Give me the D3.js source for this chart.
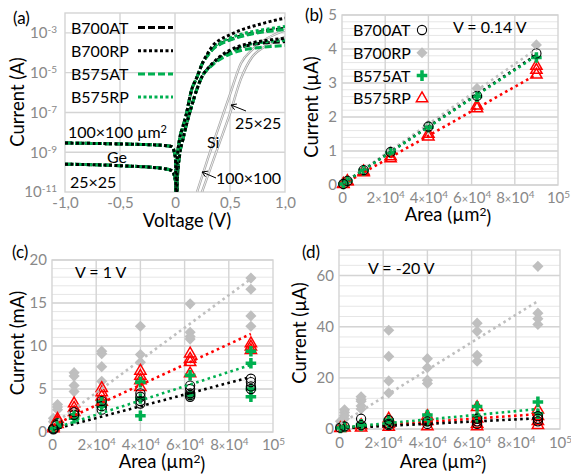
<!DOCTYPE html>
<html>
<head>
<meta charset="utf-8">
<script src="https://cdn.jsdelivr.net/npm/d3@7"></script>
<style>
  body { margin: 0; background: #fff; }
  text { font-family: Lato, "Liberation Sans", sans-serif; }
</style>
</head>
<body>
<svg id="chart" width="571" height="474"></svg>
<script>
// ---- panel (a): I-V curves ----
var vGe = [-1, -0.5, -0.1, -0.03, -0.01, 0.005, 0.012, 0.02, 0.04, 0.07, 0.1, 0.15, 0.2, 0.25, 0.3, 0.35, 0.4, 0.5, 0.6, 0.7, 0.8, 0.9, 1.0];

// 100x100 um2 devices (A)
var B700AT_100 = [2.9e-9, 2.6e-9, 2.2e-9, 1.9e-9, 1.2e-9, 4e-10, 1e-12, 4e-10, 4e-9, 1.8e-8, 7e-8, 1.3e-6, 6e-6, 3e-5, 8e-5, 1.7e-4, 2.6e-4, 4.6e-4, 7e-4, 9.5e-4, 1.2e-3, 1.45e-3, 1.7e-3];
var B700RP_100 = [2.9e-9, 2.6e-9, 2.2e-9, 1.9e-9, 1.2e-9, 4e-10, 1e-12, 4e-10, 4e-9, 1.8e-8, 7e-8, 1.3e-6, 6e-6, 3e-5, 1e-4, 2.5e-4, 4.2e-4, 8e-4, 1.4e-3, 2.1e-3, 3e-3, 4.2e-3, 5.5e-3];
var B575AT_100 = [2.9e-9, 2.6e-9, 2.2e-9, 1.9e-9, 1.2e-9, 4e-10, 1e-12, 4e-10, 4e-9, 1.8e-8, 7e-8, 1.3e-6, 6e-6, 3e-5, 7.5e-5, 1.6e-4, 2.5e-4, 4.3e-4, 6.5e-4, 8.8e-4, 1.1e-3, 1.3e-3, 1.45e-3];
var B575RP_100 = [2.9e-9, 2.6e-9, 2.2e-9, 1.9e-9, 1.2e-9, 4e-10, 1e-12, 4e-10, 4e-9, 1.8e-8, 7e-8, 1.3e-6, 6e-6, 3e-5, 8.5e-5, 1.9e-4, 3e-4, 5.5e-4, 8.5e-4, 1.15e-3, 1.45e-3, 1.75e-3, 2.1e-3];

// 25x25 um2 devices (A)
var B700AT_25 = [2.5e-10, 2.1e-10, 1.5e-10, 1.2e-10, 8e-11, 3e-11, 1e-12, 3e-11, 6e-10, 4e-9, 2e-8, 2e-7, 1.5e-6, 7e-6, 1.6e-5, 3e-5, 5e-5, 1.1e-4, 1.9e-4, 2.6e-4, 3.1e-4, 3.4e-4, 3.6e-4];
var B700RP_25 = [2.5e-10, 2.1e-10, 1.5e-10, 1.2e-10, 8e-11, 3e-11, 1e-12, 3e-11, 6e-10, 4e-9, 2e-8, 2e-7, 1.5e-6, 7e-6, 1.7e-5, 3.3e-5, 6e-5, 1.35e-4, 2.3e-4, 3.2e-4, 4e-4, 4.7e-4, 5.3e-4];
var B575AT_25 = [2.5e-10, 2.1e-10, 1.5e-10, 1.2e-10, 8e-11, 3e-11, 1e-12, 3e-11, 6e-10, 4e-9, 2e-8, 2e-7, 1.5e-6, 7e-6, 1.5e-5, 2.7e-5, 4.3e-5, 8.5e-5, 1.3e-4, 1.65e-4, 1.9e-4, 2.1e-4, 2.3e-4];
var B575RP_25 = [2.5e-10, 2.1e-10, 1.5e-10, 1.2e-10, 8e-11, 3e-11, 1e-12, 3e-11, 6e-10, 4e-9, 2e-8, 2e-7, 1.5e-6, 7e-6, 1.6e-5, 3e-5, 5.2e-5, 1.15e-4, 2e-4, 2.8e-4, 3.4e-4, 3.9e-4, 4.3e-4];

// Si reference diodes
var vSi = [0.2, 0.3, 0.4, 0.5, 0.6, 0.7, 0.8, 0.9, 1.0];
var Si_100 = [1e-11, 5e-10, 2e-8, 8e-7, 3e-5, 1.4e-4, 4e-4, 8e-4, 1.35e-3];
var Si_25 = [2e-12, 7e-11, 2.5e-9, 9e-8, 5e-6, 6e-5, 1.8e-4, 3.5e-4, 6.3e-4];

var voltTicks = [-1, -0.5, 0, 0.5, 1];
var voltLabels = ["-1,0", "-0,5", "0", "0,5", "1,0"];
var logTicks = [1e-11, 1e-9, 1e-7, 1e-5, 1e-3];

// ---- panels (b)-(d): current vs area, several devices per area ----
var areas = [625, 2500, 10000, 22500, 40000, 62500, 90000];
var areaTicks = [0, 20000, 40000, 60000, 80000, 100000];

// (b) V = 0.14 V, uA
var b_B700AT = [[0.03], [0.12], [0.44], [0.97], [1.72], [2.62], [3.87]];
var b_B700RP = [[0.03], [0.13], [0.45], [1.0], [1.76], [2.84], [4.12]];
var b_B575AT = [[0.03], [0.12], [0.43], [0.95], [1.7], [2.6], [3.75]];
var b_B575RP = [[0.02, 0.03], [0.1, 0.11], [0.37, 0.4], [0.78, 0.84], [1.42, 1.5], [2.25, 2.33], [3.24, 3.38, 3.5]];
// trend lines [at 625, at 90000]
var b_trend = { B700RP: [0.05, 4.0], B575RP: [0.03, 3.25], B700AT: [0.05, 3.83], B575AT: [0.05, 3.8] };

// (c) V = 1 V, mA
var c_B700AT = [[0.4, 0.3], [1.0, 0.85], [2.3, 2.0], [3.6, 3.0, 2.6], [4.5, 4.1, 3.6, 3.3], [5.4, 5.0, 4.5, 4.3, 4.1], [6.2, 5.8, 5.3, 5.0]];
var c_B700RP = [[1.6, 1.2], [3.2, 2.9, 2.6], [6.9, 6.5, 5.4, 4.7], [9.4, 9.1, 7.6, 5.9], [12.3, 9.0, 8.1], [14.9, 11.6, 11.1, 10.8], [17.9, 16.6, 13.5, 12.3]];
var c_B575AT = [[0.4], [1.0], [2.0, 1.6], [3.5, 3.0], [5.8, 3.9, 1.9], [6.6, 4.3], [9.4, 8.0, 5.0, 4.1]];
var c_B575RP = [[0.6, 0.4], [1.5, 1.2, 0.9], [3.3, 2.8, 2.3], [5.1, 4.6, 4.1, 3.5], [7.1, 6.5, 6.0, 5.2], [9.1, 8.5, 8.1, 6.8], [10.3, 9.9, 9.5]];
var c_trend = { B700RP: [0.9, 17.8], B575RP: [0.8, 11.4], B700AT: [0.3, 6.4], B575AT: [0.4, 7.8] };

// (d) V = -20 V, uA
var d_B700AT = [[0.5], [1.0], [4.0, 1.5], [3.5, 2.0, 1.5], [3.0, 2.0], [4.0, 3.0, 2.0], [5.0, 4.0, 3.0]];
var d_B700RP = [[3.0, 1.5], [7.5, 6.5, 5.3, 4.0], [12.6, 11.5, 10.9, 9.0, 7.8], [38.6, 28.4, 18.8, 14.1], [27.5, 24.0, 19.1, 17.8], [41.4, 38.2, 28.8, 26.5], [63.6, 45.3, 43.1, 40.9]];
var d_B575AT = [[0.4], [0.8], [1.8, 1.2], [3.5, 2.0], [5.5, 3.0], [8.8, 4.5], [10.6, 6.0]];
var d_B575RP = [[0.3], [0.5], [1.5, 0.5], [4.0, 2.0, 0.8], [5.0, 3.0, 1.0], [8.5, 4.0, 2.0, 1.0], [7.5, 5.0, 3.0, 1.5]];
var d_trend = { B700RP: [2.0, 50], B575RP: [0.4, 5.8], B700AT: [0.3, 4.2], B575AT: [0.5, 7.8] };

var seriesNames = ["B700AT", "B700RP", "B575AT", "B575RP"];

var green = "#00b050", red = "#ff0000", gray = "#bfbfbf";
var tickColor = "#898989";
var gridMajor = "#d4d4d4", gridMinor = "#e6e6e6";

var svg = d3.select("#chart");

// gridlines + border for one plot area
function drawGrid(g, x, y, vLines, hMajor, hMinor) {
  var xr = x.range(), yr = y.range();
  g.selectAll(".hmin").data(hMinor).enter().append("line")
    .attr("x1", xr[0]).attr("x2", xr[1])
    .attr("y1", d => y(d)).attr("y2", d => y(d))
    .attr("stroke", gridMinor).attr("stroke-width", 1);
  g.selectAll(".hmaj").data(hMajor).enter().append("line")
    .attr("x1", xr[0]).attr("x2", xr[1])
    .attr("y1", d => y(d)).attr("y2", d => y(d))
    .attr("stroke", gridMajor).attr("stroke-width", 1.4);
  g.selectAll(".vmaj").data(vLines).enter().append("line")
    .attr("x1", d => x(d)).attr("x2", d => x(d))
    .attr("y1", yr[0]).attr("y2", yr[1])
    .attr("stroke", gridMajor).attr("stroke-width", 1.4);
  g.append("rect")
    .attr("x", xr[0]).attr("y", yr[1])
    .attr("width", xr[1] - xr[0]).attr("height", yr[0] - yr[1])
    .attr("fill", "none").attr("stroke", gridMajor).attr("stroke-width", 1.4);
}

function styleAxis(ax) {
  ax.select(".domain").remove();
  ax.attr("font-size", 15).attr("font-family", "Lato, sans-serif");
  ax.selectAll(".tick text").attr("fill", tickColor);
}

function areaLabel(t, d) {
  t.text(null);
  if (d === 0) { t.text("0"); return; }
  if (d === 100000) {
    t.append("tspan").text("10");
    t.append("tspan").attr("dy", "-0.45em").attr("font-size", 10).text("5");
    return;
  }
  t.append("tspan").text(d / 10000);
  t.append("tspan").attr("font-size", 11).text("×");
  t.append("tspan").text("10");
  t.append("tspan").attr("dy", "-0.45em").attr("font-size", 10).text("4");
}

function marker(g, kind, cx, cy) {
  if (kind === "B700AT") {
    g.append("circle").attr("cx", cx).attr("cy", cy).attr("r", 4.6)
      .attr("fill", "none").attr("stroke", "#000").attr("stroke-width", 1.1);
  } else if (kind === "B700RP") {
    g.append("path").attr("d", d3.symbol(d3.symbolSquare, 62)())
      .attr("transform", `translate(${cx},${cy}) rotate(45)`).attr("fill", gray);
  } else if (kind === "B575AT") {
    g.append("path").attr("d", d3.symbol(d3.symbolCross, 62)())
      .attr("transform", `translate(${cx},${cy})`).attr("fill", green);
  } else {
    g.append("path").attr("d", d3.symbol(d3.symbolTriangle, 55)())
      .attr("transform", `translate(${cx},${cy})`)
      .attr("fill", "none").attr("stroke", red).attr("stroke-width", 1.5);
  }
}

var trendColor = { B700AT: "#000", B700RP: gray, B575AT: green, B575RP: red };

function areaPanel(cfg) {
  var g = svg.append("g");
  var x = d3.scaleLinear().domain([0, 100000]).range([cfg.x0, cfg.x1]);
  var y = d3.scaleLinear().domain([0, cfg.yMax]).range([cfg.yBot, cfg.yTop]);

  drawGrid(g, x, y, areaTicks.slice(1, 5), cfg.major, cfg.minor);

  // markers, back to front
  ["B700RP", "B575RP", "B575AT", "B700AT"].forEach(function(name) {
    var vals = cfg.data[name];
    areas.forEach(function(a, i) {
      vals[i].forEach(function(v) { marker(g, name, x(a), y(v)); });
    });
  });

  // dotted linear trend lines
  ["B700RP", "B575RP", "B700AT", "B575AT"].forEach(function(name) {
    var t = cfg.trend[name];
    g.append("line")
      .attr("x1", x(areas[0])).attr("y1", y(t[0]))
      .attr("x2", x(areas[areas.length - 1])).attr("y2", y(t[1]))
      .attr("stroke", trendColor[name]).attr("stroke-width", 2.6)
      .attr("stroke-dasharray", "2.6,3.4");
  });

  var gx = g.append("g").attr("transform", `translate(0,${cfg.yBot})`)
    .call(d3.axisBottom(x).tickValues(areaTicks).tickSize(0).tickPadding(cfg.xPad).tickFormat(""));
  styleAxis(gx);
  gx.selectAll(".tick text").each(function(d) { areaLabel(d3.select(this), d); });

  var gy = g.append("g").attr("transform", `translate(${cfg.x0},0)`)
    .call(d3.axisLeft(y).tickValues(cfg.major).tickSize(0).tickPadding(5).tickFormat(d3.format("d")));
  styleAxis(gy);

  g.append("text").attr("x", cfg.letter[0]).attr("y", cfg.letter[1])
    .attr("font-size", 17).text(cfg.letterText);
  g.append("text").attr("x", cfg.vPos[0]).attr("y", cfg.vPos[1])
    .attr("font-size", 16).text(cfg.vText);
  g.append("text")
    .attr("transform", `translate(${cfg.yTitle[0]},${cfg.yTitle[1]}) rotate(-90)`)
    .attr("text-anchor", "middle").attr("dy", "0.35em").attr("font-size", 18.5).text(cfg.yText);
  var xt = g.append("text").attr("x", cfg.xTitle[0]).attr("y", cfg.xTitle[1])
    .attr("text-anchor", "middle").attr("font-size", 18.5);
  xt.append("tspan").text("Area (µm");
  xt.append("tspan").attr("dy", "-0.45em").attr("font-size", 12).text("2");
  xt.append("tspan").attr("dy", "0.45em").text(")");
  return g;
}

// ---------- panel (a) ----------
(function() {
  var g = svg.append("g");
  var x = d3.scaleLinear().domain([-1, 1]).range([65, 285]);
  var y = d3.scaleLog().domain([1e-11, 1e-2]).range([192, 13]);

  drawGrid(g, x, y, [-0.5, 0, 0.5], [1e-9, 1e-7, 1e-5, 1e-3], []);

  g.append("clipPath").attr("id", "clipA").append("rect")
    .attr("x", 65).attr("y", 13).attr("width", 220).attr("height", 179);
  var plot = g.append("g").attr("clip-path", "url(#clipA)");

  var lineGe = d3.line().x((d, i) => x(vGe[i])).y(d => y(d)).curve(d3.curveMonotoneX);
  var lineSi = d3.line().x((d, i) => x(vSi[i])).y(d => y(d)).curve(d3.curveMonotoneX);

  [Si_100, Si_25].forEach(function(c) {
    plot.append("path").attr("d", lineSi(c)).attr("fill", "none")
      .attr("stroke", "#a6a6a6").attr("stroke-width", 2.4);
    plot.append("path").attr("d", lineSi(c)).attr("fill", "none")
      .attr("stroke", "#fff").attr("stroke-width", 0.8);
  });

  var curves = [
    [B700AT_25, "#000", "7,3"], [B575AT_25, green, "7,3"],
    [B575RP_25, green, "3,2.5"], [B700RP_25, "#000", "3,2.5"],
    [B700AT_100, "#000", "7,3"], [B575AT_100, green, "7,3"],
    [B575RP_100, green, "3,2.5"], [B700RP_100, "#000", "3,2.5"]
  ];
  curves.forEach(function(c) {
    plot.append("path").attr("d", lineGe(c[0])).attr("fill", "none")
      .attr("stroke", c[1]).attr("stroke-width", 3).attr("stroke-dasharray", c[2]);
  });

  // axes
  var gx = g.append("g").attr("transform", "translate(0,192)")
    .call(d3.axisBottom(x).tickValues(voltTicks).tickSize(0).tickPadding(5)
      .tickFormat((d, i) => voltLabels[i]));
  styleAxis(gx);

  var gy = g.append("g").attr("transform", "translate(65,0)")
    .call(d3.axisLeft(y).tickValues(logTicks).tickSize(0).tickPadding(8).tickFormat(""));
  styleAxis(gy);
  gy.selectAll(".tick text").each(function(d) {
    var t = d3.select(this);
    t.append("tspan").text("10");
    t.append("tspan").attr("dy", "-0.5em").attr("font-size", 10).text(Math.round(Math.log10(d)));
  });

  // legend (line samples)
  var leg = [["B700AT", "#000", "7,3"], ["B700RP", "#000", "3,2.5"], ["B575AT", green, "7,3"], ["B575RP", green, "3,2.5"]];
  leg.forEach(function(l, i) {
    var cy = 27.5 + i * 23.2;
    g.append("text").attr("x", 71).attr("y", cy + 6).attr("font-size", 16).text(l[0]);
    g.append("line").attr("x1", 138).attr("x2", 173).attr("y1", cy).attr("y2", cy)
      .attr("stroke", l[1]).attr("stroke-width", 3).attr("stroke-dasharray", l[2]);
  });

  // annotations
  var t1 = g.append("text").attr("x", 68).attr("y", 137.5).attr("font-size", 16);
  t1.append("tspan").text("100×100 µm");
  t1.append("tspan").attr("dy", "-0.45em").attr("font-size", 11).text("2");
  g.append("text").attr("x", 107).attr("y", 163).attr("font-size", 16).text("Ge");
  g.append("text").attr("x", 70).attr("y", 188).attr("font-size", 16).text("25×25");
  g.append("text").attr("x", 235).attr("y", 129).attr("font-size", 16).text("25×25");
  g.append("text").attr("x", 207).attr("y", 147.5).attr("font-size", 16).text("Si");
  g.append("text").attr("x", 216).attr("y", 184).attr("font-size", 16).text("100×100");

  function arrow(x1, y1, x2, y2) {
    var a = Math.atan2(y2 - y1, x2 - x1), L = 6;
    g.append("path")
      .attr("d", `M${x1},${y1}L${x2},${y2}M${x2 + L * Math.cos(a + 2.6)},${y2 + L * Math.sin(a + 2.6)}L${x2},${y2}L${x2 + L * Math.cos(a - 2.6)},${y2 + L * Math.sin(a - 2.6)}`)
      .attr("fill", "none").attr("stroke", "#000").attr("stroke-width", 1);
  }
  arrow(246, 111, 231, 105);
  arrow(216, 178, 202, 172);

  g.append("text").attr("x", 13).attr("y", 24).attr("font-size", 17).text("(a)");
  g.append("text").attr("transform", "translate(18,102) rotate(-90)")
    .attr("text-anchor", "middle").attr("dy", "0.35em").attr("font-size", 18.5).text("Current (A)");
  g.append("text").attr("x", 187).attr("y", 227).attr("text-anchor", "middle")
    .attr("font-size", 18.5).text("Voltage (V)");
})();

// ---------- panel (b) ----------
var gb = areaPanel({
  x0: 342, x1: 558, yTop: 15, yBot: 185, yMax: 5,
  major: [0, 1, 2, 3, 4, 5], minor: d3.range(0.2, 5, 0.2),
  data: { B700AT: b_B700AT, B700RP: b_B700RP, B575AT: b_B575AT, B575RP: b_B575RP },
  trend: b_trend, xPad: 7,
  letter: [305, 21], letterText: "(b)",
  vPos: [453, 32.5], vText: "V = 0.14 V",
  yTitle: [312, 107], yText: "Current (µA)",
  xTitle: [448, 221]
});
seriesNames.forEach(function(name, i) {
  var cy = 30 + i * 22.8;
  gb.append("text").attr("x", 353).attr("y", cy + 6).attr("font-size", 16).text(name);
  marker(gb, name, 422, cy);
});

// ---------- panel (c) ----------
areaPanel({
  x0: 52, x1: 273, yTop: 260, yBot: 432, yMax: 20,
  major: [0, 5, 10, 15, 20], minor: d3.range(1, 20, 1),
  data: { B700AT: c_B700AT, B700RP: c_B700RP, B575AT: c_B575AT, B575RP: c_B575RP },
  trend: c_trend, xPad: 7,
  letter: [12, 258], letterText: "(c)",
  vPos: [75, 278], vText: "V = 1 V",
  yTitle: [18, 343], yText: "Current (mA)",
  xTitle: [162, 468]
});

// ---------- panel (d) ----------
areaPanel({
  x0: 339, x1: 560, yTop: 250, yBot: 429, yMax: 70,
  major: [0, 20, 40, 60], minor: d3.range(4, 70, 4),
  data: { B700AT: d_B700AT, B700RP: d_B700RP, B575AT: d_B575AT, B575RP: d_B575RP },
  trend: d_trend, xPad: 8,
  letter: [302, 258], letterText: "(d)",
  vPos: [368, 274], vText: "V = -20 V",
  yTitle: [300, 333], yText: "Current (µA)",
  xTitle: [443, 468]
});
</script>
</body>
</html>
